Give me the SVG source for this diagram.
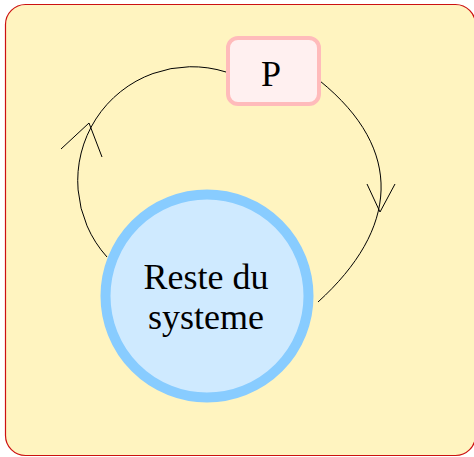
<svg xmlns="http://www.w3.org/2000/svg" width="474" height="457" viewBox="0 0 474 457">
<style>
.bg{fill:#fff4c0;stroke:#cc1111;stroke-width:1.2}
.sys{fill:#cfeaff;stroke:#88ccff;stroke-width:10}
.pbox{fill:#fff0f0;stroke:#ffbbbb;stroke-width:4}
.lbl{font-family:"Liberation Serif","Times New Roman",serif;font-size:36px;fill:#000;text-anchor:middle}
.edge{fill:none;stroke:#000;stroke-width:1}
</style>
<rect class="bg" x="5.5" y="4.5" width="470" height="451" rx="20" ry="20"/>
<g id="connectors">
<path class="edge" d="M107,257 A114,114 0 0 1 226,72"/>
<path class="edge" d="M61,149 L89,123 L102,157"/>
<path class="edge" d="M320,81 C405,150 398.5,229 318,302"/>
<path class="edge" d="M367,184 L380,212 L395,184"/>
</g>
<g id="node-system">
<circle class="sys" cx="207" cy="296" r="101.5"/>
<text class="lbl" x="206" y="289">Reste du</text>
<text class="lbl" x="206" y="329">systeme</text>
</g>
<g id="node-P">
<rect class="pbox" x="228" y="38" width="91" height="66" rx="10" ry="10"/>
<text class="lbl" x="271" y="86">P</text>
</g>
</svg>
